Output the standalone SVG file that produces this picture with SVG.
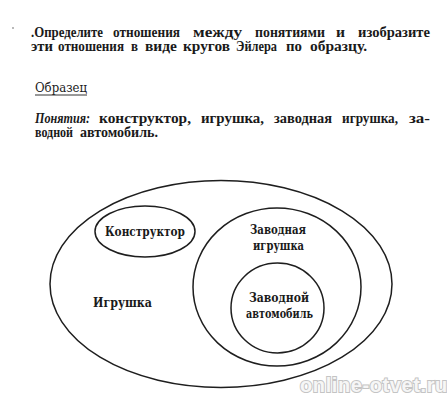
<svg xmlns="http://www.w3.org/2000/svg" width="447" height="400" viewBox="0 0 447 400">
<style>
.t{font-family:"Liberation Serif","DejaVu Serif",serif;font-weight:bold;font-size:14px;fill:#1a1a1a}
.ti{font-style:italic}
.c{fill:none;stroke:#1e1e1e;stroke-width:1.5}
.lbl{font-family:"DejaVu Serif","Liberation Serif",serif;font-weight:bold;font-size:12px;fill:#1a1a1a}
.wm{font-family:"Liberation Sans",Arial,sans-serif;font-weight:bold;font-size:20px;fill:#f6f6f6;stroke:#c4c4c4;stroke-width:2;paint-order:stroke;letter-spacing:0.6px}
</style>
<rect width="447" height="400" fill="#ffffff"/>
<g id="task">
<circle cx="13" cy="28" r="0.9" fill="#999"/>
<text class="t" x="31" y="37" textLength="72" lengthAdjust="spacingAndGlyphs">.Определите</text>
<text class="t" x="113" y="37" textLength="67" lengthAdjust="spacingAndGlyphs">отношения</text>
<text class="t" x="193" y="37" textLength="49" lengthAdjust="spacingAndGlyphs">между</text>
<text class="t" x="255" y="37" textLength="70" lengthAdjust="spacingAndGlyphs">понятиями</text>
<text class="t" x="336" y="37" textLength="9" lengthAdjust="spacingAndGlyphs">и</text>
<text class="t" x="358" y="37" textLength="72" lengthAdjust="spacingAndGlyphs">изобразите</text>
<text class="t" x="31" y="51" textLength="22" lengthAdjust="spacingAndGlyphs">эти</text>
<text class="t" x="58" y="51" textLength="66" lengthAdjust="spacingAndGlyphs">отношения</text>
<text class="t" x="131" y="51" textLength="7" lengthAdjust="spacingAndGlyphs">в</text>
<text class="t" x="145" y="51" textLength="32" lengthAdjust="spacingAndGlyphs">виде</text>
<text class="t" x="183" y="51" textLength="47" lengthAdjust="spacingAndGlyphs">кругов</text>
<text class="t" x="236" y="51" textLength="41" lengthAdjust="spacingAndGlyphs">Эйлера</text>
<text class="t" x="286" y="51" textLength="16" lengthAdjust="spacingAndGlyphs">по</text>
<text class="t" x="310" y="51" textLength="57" lengthAdjust="spacingAndGlyphs">образцу.</text>
</g>
<g id="sample">
<text x="35" y="92" style="font-family:'DejaVu Serif','Liberation Serif',serif;font-size:12px;fill:#1a1a1a" textLength="52" lengthAdjust="spacingAndGlyphs">Образец</text>
<line x1="35" y1="95" x2="87" y2="95" stroke="#333" stroke-width="1"/>
<text class="t ti" x="35" y="123" textLength="55" lengthAdjust="spacingAndGlyphs">Понятия:</text>
<text class="t" x="99" y="123" textLength="92" lengthAdjust="spacingAndGlyphs">конструктор,</text>
<text class="t" x="201" y="123" textLength="63" lengthAdjust="spacingAndGlyphs">игрушка,</text>
<text class="t" x="274" y="123" textLength="58" lengthAdjust="spacingAndGlyphs">заводная</text>
<text class="t" x="342" y="123" textLength="56" lengthAdjust="spacingAndGlyphs">игрушка,</text>
<text class="t" x="409" y="123" textLength="21" lengthAdjust="spacingAndGlyphs">за-</text>
<text class="t" x="35" y="137" textLength="38" lengthAdjust="spacingAndGlyphs">водной</text>
<text class="t" x="80" y="137" textLength="78" lengthAdjust="spacingAndGlyphs">автомобиль.</text>
</g>
<g id="connectors"></g>
<g id="node-igrushka">
<ellipse class="c" cx="221" cy="284" rx="171" ry="103.5"/>
<text class="lbl" x="93" y="307" textLength="59" lengthAdjust="spacingAndGlyphs">Игрушка</text>
</g>
<g id="node-konstruktor">
<ellipse class="c" cx="145" cy="231.5" rx="50" ry="25.5"/>
<text class="lbl" x="105" y="236" textLength="80" lengthAdjust="spacingAndGlyphs">Конструктор</text>
</g>
<g id="node-zavodnaya">
<ellipse class="c" cx="277" cy="287" rx="84" ry="79"/>
<text class="lbl" x="250" y="234" textLength="56" lengthAdjust="spacingAndGlyphs">Заводная</text>
<text class="lbl" x="253" y="250" textLength="51" lengthAdjust="spacingAndGlyphs">игрушка</text>
</g>
<g id="node-avtomobil">
<ellipse class="c" cx="277.5" cy="308" rx="46.5" ry="45"/>
<text class="lbl" x="249" y="302" textLength="60" lengthAdjust="spacingAndGlyphs">Заводной</text>
<text class="lbl" x="246" y="318" textLength="67" lengthAdjust="spacingAndGlyphs">автомобиль</text>
</g>
<text class="wm" x="300" y="392">online-otvet.ru</text>
</svg>
